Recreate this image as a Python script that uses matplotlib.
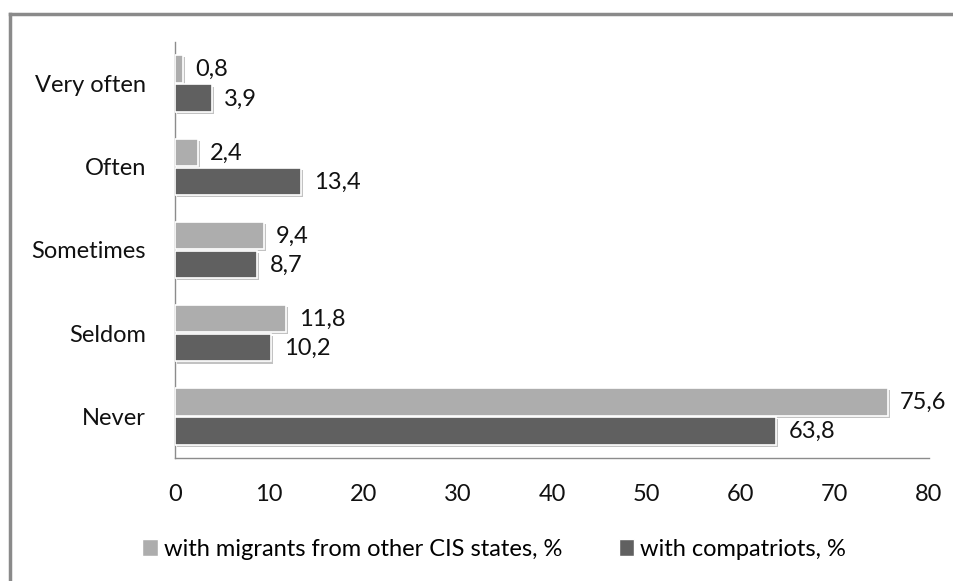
import matplotlib
matplotlib.use("Agg")
import matplotlib.pyplot as plt
import matplotlib.patheffects as pe
from matplotlib.lines import Line2D
import numpy as np

plt.rcParams['font.family'] = ['Lato', 'DejaVu Sans']

categories = ["Never", "Seldom", "Sometimes", "Often", "Very often"]
migrants = [75.6, 11.8, 9.4, 2.4, 0.8]
compatriots = [63.8, 10.2, 8.7, 13.4, 3.9]
series_names = ["with migrants from other CIS states, %", "with compatriots, %"]
x_ticks = [0, 10, 20, 30, 40, 50, 60, 70, 80]

light = "#adadad"
dark = "#606060"
fs = 17

fig = plt.figure(figsize=(9.54, 5.81), dpi=100)
ax = fig.add_axes([175 / 954, 1 - 458 / 581, (929 - 175) / 954, (458 - 42) / 581])

y = np.arange(len(categories))
h = 0.33
shadow = [pe.withSimplePatchShadow(offset=(1.5, -1.5), shadow_rgbFace="#9a9a9a", alpha=0.6)]

bars_m = ax.barh(y + 0.175, migrants, height=h, color=light, edgecolor="white",
                 linewidth=1.2, path_effects=shadow, zorder=3)
bars_c = ax.barh(y - 0.175, compatriots, height=h, color=dark, edgecolor="white",
                 linewidth=1.2, path_effects=shadow, zorder=3)

def fmt(v):
    return f"{v:.1f}".replace(".", ",")

for bars, vals in ((bars_m, migrants), (bars_c, compatriots)):
    for b, v in zip(bars, vals):
        ax.annotate(fmt(v), (v, b.get_y() + b.get_height() / 2),
                    xytext=(9, -0.5), textcoords="offset points",
                    ha="left", va="center", fontsize=fs, color="#111111")

ax.set_xlim(0, 80)
ax.set_ylim(-0.5, len(categories) - 0.5)
ax.set_xticks(x_ticks)
ax.set_xticklabels([str(t) for t in x_ticks])
ax.set_yticks(y)
ax.set_yticklabels(categories)
ax.tick_params(axis="both", length=0, labelsize=fs, colors="#111111")
ax.tick_params(axis="x", pad=19)
ax.tick_params(axis="y", pad=21)
for s in ("top", "right"):
    ax.spines[s].set_visible(False)
for s in ("left", "bottom"):
    ax.spines[s].set_color("#8c8c8c")
    ax.spines[s].set_linewidth(1.0)

handles = [plt.Rectangle((0, 0), 1, 1, facecolor=light, edgecolor="white"),
           plt.Rectangle((0, 0), 1, 1, facecolor=dark, edgecolor="white")]
fig.legend(handles, series_names, loc="center", bbox_to_anchor=(494 / 954, 1 - 549 / 581),
           ncol=2, frameon=False, fontsize=fs, handlelength=0.65, handleheight=0.75,
           handletextpad=0.25, columnspacing=2.4, borderpad=0.0)

# outer frame: top and left edges
fig.add_artist(Line2D([10 / 954, 1.0], [1 - 13.5 / 581, 1 - 13.5 / 581],
                      transform=fig.transFigure, color="#8a8a8a", linewidth=2.5))
fig.add_artist(Line2D([10 / 954, 10 / 954], [1 - 13.5 / 581, 0.0],
                      transform=fig.transFigure, color="#8a8a8a", linewidth=2.5))

fig.savefig("out.png", dpi=100)
